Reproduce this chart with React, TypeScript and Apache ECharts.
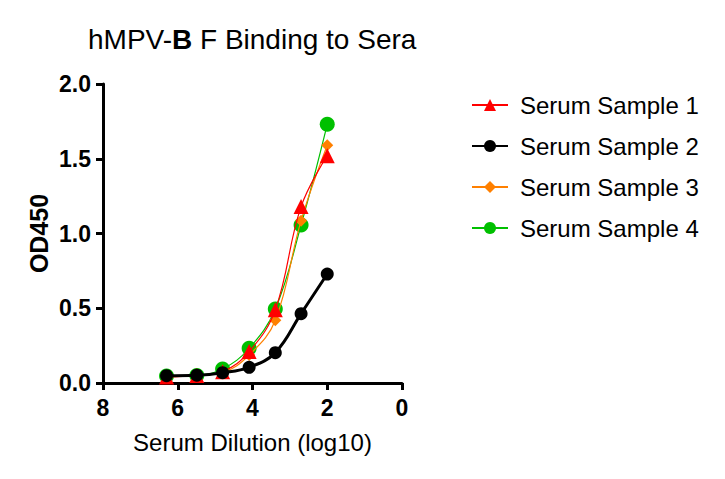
import React, { useEffect, useRef } from "react";
import * as echarts from "echarts";

const dilutionLog10 = [6.3, 5.49, 4.8, 4.09, 3.39, 2.7, 2.0];
const sample1 = [0.04, 0.05, 0.076, 0.21, 0.49, 1.18, 1.52];
const sample2 = [0.049, 0.052, 0.069, 0.105, 0.203, 0.464, 0.729];
const sample3 = [0.04, 0.05, 0.07, 0.187, 0.42, 1.086, 1.59];
const sample4 = [0.047, 0.051, 0.094, 0.232, 0.495, 1.057, 1.73];
const seriesNames = ["Serum Sample 1", "Serum Sample 2", "Serum Sample 3", "Serum Sample 4"];

const FONT = "Liberation Sans, Arial, sans-serif";

export default function App() {
  const ref = useRef<HTMLDivElement>(null);
  useEffect(() => {
    if (!ref.current) return;
    const chart = echarts.init(ref.current, null, { renderer: "svg" });
    const pts = (ys: number[]) => dilutionLog10.map((x, i) => [x, ys[i]]);
    chart.setOption({
      animation: false,
      backgroundColor: "#ffffff",
      textStyle: { fontFamily: FONT },
      title: {
        text: "hMPV-{b|B} F Binding to Sera",
        left: 75,
        top: 12,
        textStyle: {
          fontFamily: FONT,
          fontSize: 28,
          fontWeight: "normal",
          color: "#000",
          rich: { b: { fontFamily: FONT, fontSize: 28, fontWeight: "bold", color: "#000" } },
        },
      },
      legend: {
        orient: "vertical",
        left: 458,
        top: 80,
        itemGap: 17,
        itemWidth: 36,
        itemHeight: 15,
        textStyle: { fontFamily: FONT, fontSize: 24, color: "#000", padding: [0, 0, 0, 7] },
        data: seriesNames,
      },
      grid: { left: 95, top: 76, width: 299, height: 299, containLabel: false },
      xAxis: {
        type: "value",
        min: 0,
        max: 8,
        interval: 2,
        inverse: true,
        name: "Serum Dilution (log10)",
        nameLocation: "middle",
        nameGap: 47,
        nameTextStyle: { fontFamily: FONT, fontSize: 24, color: "#000" },
        axisLine: { onZero: false, lineStyle: { color: "#000", width: 3 } },
        axisTick: { show: true, length: 7, lineStyle: { color: "#000", width: 3 } },
        axisLabel: { fontFamily: FONT, fontSize: 23, fontWeight: "bold", color: "#000", margin: 13 },
        splitLine: { show: false },
      },
      yAxis: {
        type: "value",
        position: "left",
        min: 0,
        max: 2,
        interval: 0.5,
        name: "OD450",
        nameLocation: "middle",
        nameGap: 52,
        nameTextStyle: { fontFamily: FONT, fontSize: 25, fontWeight: "bold", color: "#000" },
        axisLine: { onZero: false, lineStyle: { color: "#000", width: 3 } },
        axisTick: { show: true, length: 7, lineStyle: { color: "#000", width: 3 } },
        axisLabel: {
          fontFamily: FONT,
          fontSize: 23,
          fontWeight: "bold",
          color: "#000",
          margin: 12,
          formatter: (v: number) => v.toFixed(1),
        },
        splitLine: { show: false },
      },
      series: [
        {
          name: seriesNames[0],
          type: "line",
          data: pts(sample1),
          smooth: 0.4,
          symbol: "triangle",
          symbolSize: 15,
          z: 4,
          itemStyle: { color: "#ff0000" },
          lineStyle: { color: "#ff0000", width: 1.2 },
        },
        {
          name: seriesNames[1],
          type: "line",
          data: pts(sample2),
          smooth: 0.4,
          symbol: "circle",
          symbolSize: 13,
          z: 5,
          itemStyle: { color: "#000000" },
          lineStyle: { color: "#000000", width: 3 },
        },
        {
          name: seriesNames[2],
          type: "line",
          data: pts(sample3),
          smooth: 0.4,
          symbol: "diamond",
          symbolSize: 12,
          z: 3,
          itemStyle: { color: "#ff8000" },
          lineStyle: { color: "#ff8000", width: 1.2 },
        },
        {
          name: seriesNames[3],
          type: "line",
          data: pts(sample4),
          smooth: 0.4,
          symbol: "circle",
          symbolSize: 15,
          z: 2,
          itemStyle: { color: "#00c000" },
          lineStyle: { color: "#00c000", width: 1.2 },
        },
      ],
    });
    return () => chart.dispose();
  }, []);
  return <div ref={ref} style={{ width: 709, height: 463 }} />;
}
